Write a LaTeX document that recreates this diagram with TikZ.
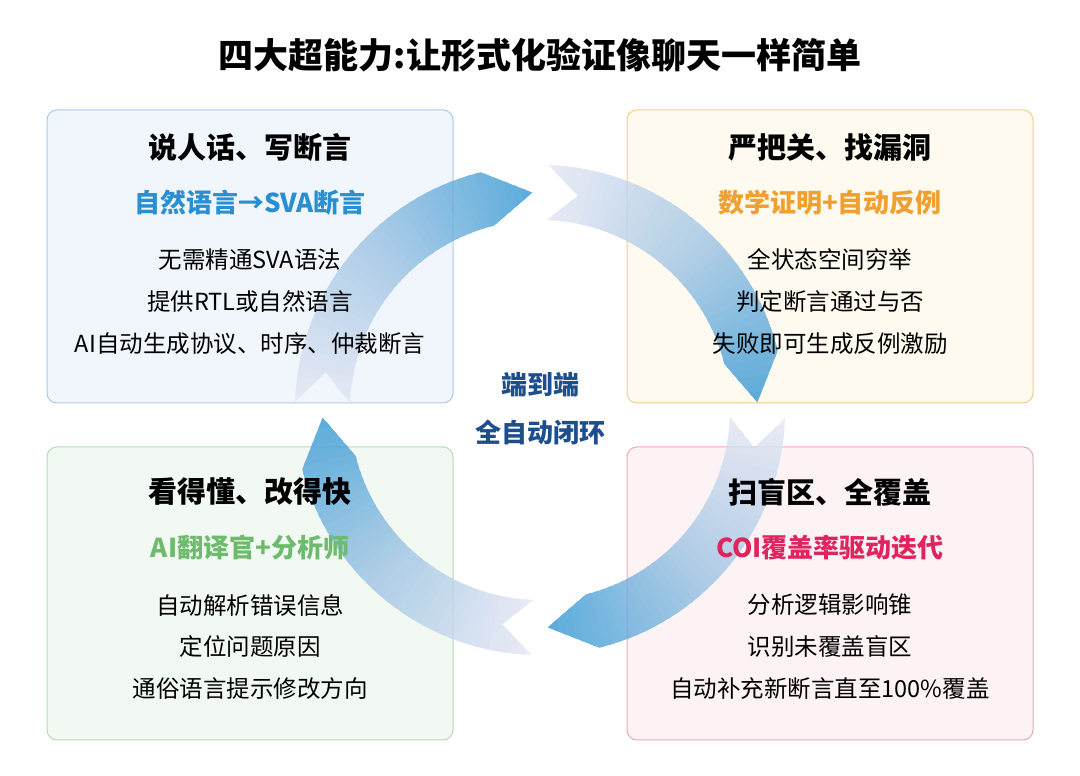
\documentclass[tikz,border=0pt]{standalone}
\usepackage{fontspec}
\setmainfont{Noto Sans CJK SC}
\begin{document}
\definecolor{headc}{HTML}{3196D4}
\definecolor{midc}{HTML}{9CC3E3}
\definecolor{tailc}{HTML}{E4E6F4}
\definecolor{tb}{HTML}{2A8FD0}
\definecolor{to}{HTML}{F0A030}
\definecolor{tg}{HTML}{6DBB6D}
\definecolor{tr}{HTML}{E0245E}
\definecolor{navy}{HTML}{1F4E8C}
\newcommand\ringarrow[2]{%
 \pgfmathsetmacro\stp{(#1-(#2))/40}
 \begin{scope}[transparency group, opacity=0.8]
 \clip (#1:245) arc[start angle=#1,end angle=#2+12,radius=245] -- (#2:217.5) -- (#2+12:190) arc[start angle=#2+12,end angle=#1,radius=190] -- (#1-8:217.5) -- cycle;
 \foreach \i in {0,...,39}{
   \pgfmathsetmacro\aa{#1-\i*\stp+0.5}
   \pgfmathsetmacro\bb{#1-(\i+1)*\stp-0.5}
   \pgfmathtruncatemacro\pp{\i<20 ? 5*\i : 5*(\i-20)}
   \ifnum\i<20 \colorlet{cc}{midc!\pp!tailc}\else\colorlet{cc}{headc!\pp!midc}\fi
   \fill[cc] (0,0) -- (\aa:270) -- (\bb:270) -- cycle;
 }
 \end{scope}}
\begin{tikzpicture}[x=1pt,y=1pt,
 box/.style={rounded corners=10pt,line width=1pt},
 ttl/.style={font=\bfseries\fontsize{29}{33}\selectfont},
 sub/.style={font=\bfseries\fontsize{26}{30}\selectfont},
 txt/.style={font=\fontsize{23.5}{27}\selectfont}]
\useasboundingbox (0,0) rectangle (1080,776);
\fill[white] (0,0) rectangle (1080,776);
\node[font=\bfseries\fontsize{35}{40}\selectfont] (title) at (540,721) {四大超能力:让形式化验证像聊天一样简单};
\draw[box,fill={rgb,255:red,240;green,246;blue,252},draw={rgb,255:red,169;green,203;blue,234}] (47,373) rectangle (453,666);
\draw[box,fill={rgb,255:red,255;green,250;blue,240},draw={rgb,255:red,245;green,205;blue,138}] (627,373) rectangle (1033,666);
\draw[box,fill={rgb,255:red,242;green,249;blue,242},draw={rgb,255:red,181;green,220;blue,181}] (47,36) rectangle (453,329);
\draw[box,fill={rgb,255:red,253;green,243;blue,245},draw={rgb,255:red,240;green,168;blue,184}] (627,36) rectangle (1033,329);
\begin{scope}[shift={(540,366)}]
\ringarrow{178}{92}
\ringarrow{88}{2}
\ringarrow{-2}{-88}
\ringarrow{-92}{-178}
\end{scope}
% TL
\node[ttl] (t1) at (250,628) {说人话、写断言};
\node[sub,text=tb] (s1) at (250,573) {自然语言→SVA断言};
\node[txt] (a1) at (250,516) {无需精通SVA语法};
\node[txt] (b1) at (250,474) {提供RTL或自然语言};
\node[txt] (c1) at (250,432) {AI自动生成协议、时序、仲裁断言};
% TR
\node[ttl] (t2) at (830,628) {严把关、找漏洞};
\node[sub,text=to] (s2) at (830,573) {数学证明+自动反例};
\node[txt] (a2) at (830,516) {全状态空间穷举};
\node[txt] (b2) at (830,474) {判定断言通过与否};
\node[txt] (c2) at (830,432) {失败即可生成反例激励};
% BL
\node[ttl] (t3) at (250,284) {看得懂、改得快};
\node[sub,text=tg] (s3) at (250,228) {AI翻译官+分析师};
\node[txt] (a3) at (250,171) {自动解析错误信息};
\node[txt] (b3) at (250,129) {定位问题原因};
\node[txt] (c3) at (250,87) {通俗语言提示修改方向};
% BR
\node[ttl] (t4) at (830,284) {扫盲区、全覆盖};
\node[sub,text=tr] (s4) at (830,228) {COI覆盖率驱动迭代};
\node[txt] (a4) at (830,171) {分析逻辑影响锥};
\node[txt] (b4) at (830,129) {识别未覆盖盲区};
\node[txt] (c4) at (830,87) {自动补充新断言直至100\%覆盖};
% center
\node[sub,text=navy] (m1) at (540,391) {端到端};
\node[sub,text=navy] (m2) at (540,343) {全自动闭环};
\end{tikzpicture}
\end{document}
